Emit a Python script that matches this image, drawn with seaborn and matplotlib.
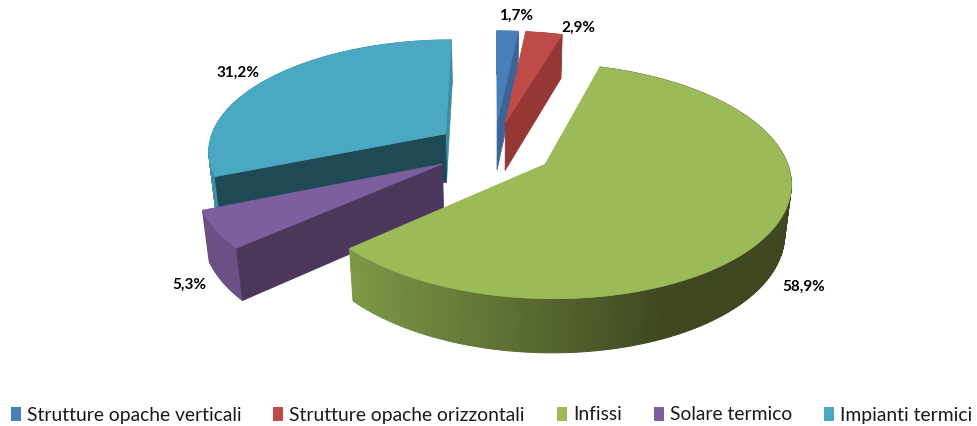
import numpy as np
import matplotlib
matplotlib.use('Agg')
import matplotlib.pyplot as plt
from matplotlib.patches import Patch
import seaborn as sns

# Chart data
categories = ['Strutture opache verticali', 'Strutture opache orizzontali', 'Infissi',
              'Solare termico', 'Impianti termici']
shares = [1.7, 2.9, 58.9, 5.3, 31.2]

top_hex = ['#4A7EBB', '#BE4B48', '#9BBB59', '#7D5F9E', '#4AA8C2']
arc_hex = ['#3C6494', '#953735', '#7D9846', '#6A5085', '#3D8DA3']
cut_hex = ['#3C6494', '#953735', '#7D9846', '#4A375B', '#1F4955']

# Pie geometry in pixels
cx, cy = 494, 149
rx, ry = 238, 111
persp = 0.14
explode = 0.25
depth = 50
depth_persp = 0.022


def project(u, v, z=0.0):
    s = 1.0 / (1.0 + persp * v + depth_persp * z)
    return cx + rx * u * s, cy - ry * v * s + depth * z * s


def lerp_green(x):
    t = np.clip((x - 352) / (662 - 352), 0, 1)
    c0 = np.array([125, 152, 70]) / 255
    c1 = np.array([62, 71, 32]) / 255
    return tuple(c0 + (c1 - c0) * t)


sns.set_theme(style='white')
plt.rcParams['font.family'] = ['Lato', 'DejaVu Sans']
palette = sns.color_palette(top_hex)

fig, ax = plt.subplots(figsize=(9.77, 4.26), dpi=100)
ax.set_position([0, 0, 1, 1])
ax.set_xlim(0, 977)
ax.set_ylim(426, 0)
ax.axis('off')

edges = np.cumsum([0] + shares) / sum(shares) * 2 * np.pi


def draw_slice(i, base):
    a0, a1 = edges[i], edges[i + 1]
    mid = (a0 + a1) / 2
    ou, ov = explode * np.sin(mid), explode * np.cos(mid)
    th = np.linspace(a0, a1, max(int((a1 - a0) * 60), 8))
    us, vs = ou + np.sin(th), ov + np.cos(th)

    # outer wall
    for j in range(len(th) - 1):
        x0, y0 = project(us[j], vs[j])
        x1, y1 = project(us[j + 1], vs[j + 1])
        x2, y2 = project(us[j + 1], vs[j + 1], 1)
        x3, y3 = project(us[j], vs[j], 1)
        col = lerp_green((x3 + x2) / 2) if i == 2 else arc_hex[i]
        ax.fill([x0, x1, x2, x3], [y0, y1, y2, y3], color=col, lw=0.7, zorder=base)

    # cut faces, only the ones turned to the viewer
    tip = [project(ou, ov), project(ou, ov, 1)]
    cuts = {0: [a1], 1: [a1], 3: [a0], 4: [a1, a0]}
    for ang in cuts.get(i, []):
        outer = [project(ou + np.sin(ang), ov + np.cos(ang)),
                 project(ou + np.sin(ang), ov + np.cos(ang), 1)]
        col = cut_hex[i]
        if i == 4 and ang == a1:
            col = arc_hex[i]
        pts = [tip[0], outer[0], outer[1], tip[1]]
        ax.fill([p[0] for p in pts], [p[1] for p in pts], color=col, lw=0.5, zorder=base + 1)

    # top face
    xs, ys = project(np.r_[ou, us], np.r_[ov, vs])
    ax.fill(xs, ys, color=palette[i], lw=0.5, zorder=base + 2)


# back slices first
for n, i in enumerate([4, 0, 1, 3, 2]):
    draw_slice(i, n * 3 + 2)

# Data labels
label_pos = [(516, 16), (578, 28), (804, 287), (189, 285), (238, 73)]
for v, (x, y) in zip(shares, label_pos):
    ax.text(x, y, f'{v:.1f}%'.replace('.', ','), ha='center', va='center',
            fontsize=11, fontweight='bold', color='black', zorder=40)

handles = [Patch(facecolor=c, edgecolor='none') for c in top_hex]
leg = ax.legend(handles, categories, ncol=5, loc='center', bbox_to_anchor=(491.5 / 977, 1 - 415 / 426),
                frameon=False, fontsize=13.9, handlelength=0.52, handleheight=0.72,
                handletextpad=0.3, columnspacing=1.67, labelcolor='#1A1A1A')

fig.savefig('out.png', dpi=100)
